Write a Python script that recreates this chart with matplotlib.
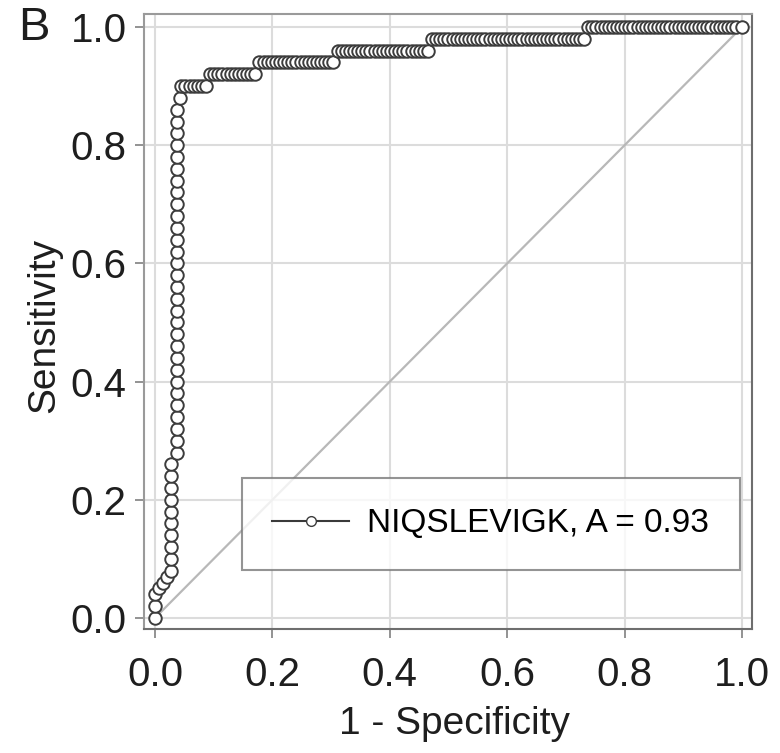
import numpy as np
import matplotlib
matplotlib.use("Agg")
import matplotlib.pyplot as plt

plt.rcParams['font.family'] = ['Liberation Sans', 'DejaVu Sans']

# ROC points, one block per step of the curve
fpr_start = [0.000, 0.000, 0.000, 0.007, 0.014, 0.020, 0.027]
tpr_start = [0.00, 0.02, 0.04, 0.05, 0.06, 0.07, 0.08]

fpr_col1 = [0.028] * 9
tpr_col1 = [0.10, 0.12, 0.14, 0.16, 0.18, 0.20, 0.22, 0.24, 0.26]

fpr_col2 = [0.038] * 30
tpr_col2 = [0.28, 0.30, 0.32, 0.34, 0.36, 0.38, 0.40, 0.42, 0.44, 0.46,
            0.48, 0.50, 0.52, 0.54, 0.56, 0.58, 0.60, 0.62, 0.64, 0.66,
            0.68, 0.70, 0.72, 0.74, 0.76, 0.78, 0.80, 0.82, 0.84, 0.86]

fpr_knee = [0.043]
tpr_knee = [0.88]

fpr_090 = [0.045, 0.052, 0.059, 0.066, 0.073, 0.080, 0.087]
fpr_092 = [0.094, 0.101, 0.108, 0.115, 0.122, 0.129, 0.136, 0.143, 0.150,
           0.157, 0.164, 0.171]
fpr_094 = [0.178, 0.185, 0.192, 0.199, 0.206, 0.213, 0.220, 0.227, 0.234,
           0.241, 0.248, 0.255, 0.262, 0.269, 0.276, 0.283, 0.290, 0.297, 0.304]
fpr_096 = [0.311, 0.318, 0.325, 0.332, 0.339, 0.346, 0.353, 0.360, 0.367,
           0.374, 0.381, 0.388, 0.395, 0.402, 0.409, 0.416, 0.423, 0.430,
           0.437, 0.444, 0.451, 0.458, 0.465]
fpr_098 = [0.472, 0.479, 0.486, 0.493, 0.500, 0.507, 0.514, 0.521, 0.528,
           0.535, 0.542, 0.549, 0.556, 0.563, 0.570, 0.577, 0.584, 0.591,
           0.598, 0.605, 0.612, 0.619, 0.626, 0.633, 0.640, 0.647, 0.654,
           0.661, 0.668, 0.675, 0.682, 0.689, 0.696, 0.703, 0.710, 0.717,
           0.724, 0.731]
fpr_100 = [0.738, 0.745, 0.752, 0.759, 0.766, 0.773, 0.780, 0.787, 0.794,
           0.801, 0.808, 0.815, 0.822, 0.829, 0.836, 0.843, 0.850, 0.857,
           0.864, 0.871, 0.878, 0.885, 0.892, 0.899, 0.906, 0.913, 0.920,
           0.927, 0.934, 0.941, 0.948, 0.955, 0.962, 0.969, 0.976, 0.983,
           0.990, 1.000]

row_levels = [0.90, 0.92, 0.94, 0.96, 0.98, 1.00]
row_fprs = [fpr_090, fpr_092, fpr_094, fpr_096, fpr_098, fpr_100]

label = "NIQSLEVIGK, A = 0.93"
ticks = [0.0, 0.2, 0.4, 0.6, 0.8, 1.0]

fpr = fpr_start + fpr_col1 + fpr_col2 + fpr_knee
tpr = tpr_start + tpr_col1 + tpr_col2 + tpr_knee
for lvl, xs in zip(row_levels, row_fprs):
    fpr += xs
    tpr += [lvl] * len(xs)

fig = plt.figure(figsize=(7.8, 7.53), dpi=100)
ax = fig.add_axes([0.1846, 0.1647, 0.7795, 0.8167])

ax.plot([0, 1], [0, 1], color='#b8b8b8', lw=1.6, zorder=2)
ax.plot(fpr, tpr, color='#3a3a3a', lw=1.5, marker='o', ms=9,
        mfc='white', mec='#3c3c3c', mew=1.4, label=label, zorder=3)

ax.set_xlim(-0.0187, 1.017)
ax.set_ylim(-0.0186, 1.022)
ax.set_xticks(ticks)
ax.set_yticks(ticks)
ax.set_xticklabels([f"{t:.1f}" for t in ticks])
ax.set_yticklabels([f"{t:.1f}" for t in ticks])
ax.grid(True, color='#dcdcdc', lw=1.5, zorder=0)
ax.set_axisbelow(True)

for side in ['left', 'top']:
    ax.spines[side].set_color('#9a9a9a')
for side in ['right', 'bottom']:
    ax.spines[side].set_color('#6e6e6e')
for sp in ax.spines.values():
    sp.set_linewidth(1.5)

ax.tick_params(axis='both', colors='#8a8a8a', length=6.5, width=1.3,
               labelsize=29, labelcolor='#1e1e1e')
ax.tick_params(axis='x', pad=13)
ax.tick_params(axis='y', pad=6)

ax.set_xlabel("1 - Specificity", fontsize=28, color='#1e1e1e')
ax.set_ylabel("Sensitivity", fontsize=28, color='#1e1e1e')
ax.xaxis.set_label_coords(0.51, -0.125)
ax.yaxis.set_label_coords(-0.135, 0.493)

leg = ax.legend(loc='lower right', bbox_to_anchor=(0.980, 0.096),
                fontsize=24, frameon=True, fancybox=False, borderpad=0.92,
                handlelength=2.3, handletextpad=0.55, borderaxespad=0)
leg.get_frame().set_edgecolor('#7a7a7a')
leg.get_frame().set_linewidth(1.5)
for h in leg.legend_handles:
    h.set_markersize(7)
    h.set_markeredgewidth(1.0)

fig.text(0.023, 1 - 28 / 753, "B", fontsize=34, va='center', ha='left',
         color='#1e1e1e')

fig.savefig("out.png", dpi=100)
